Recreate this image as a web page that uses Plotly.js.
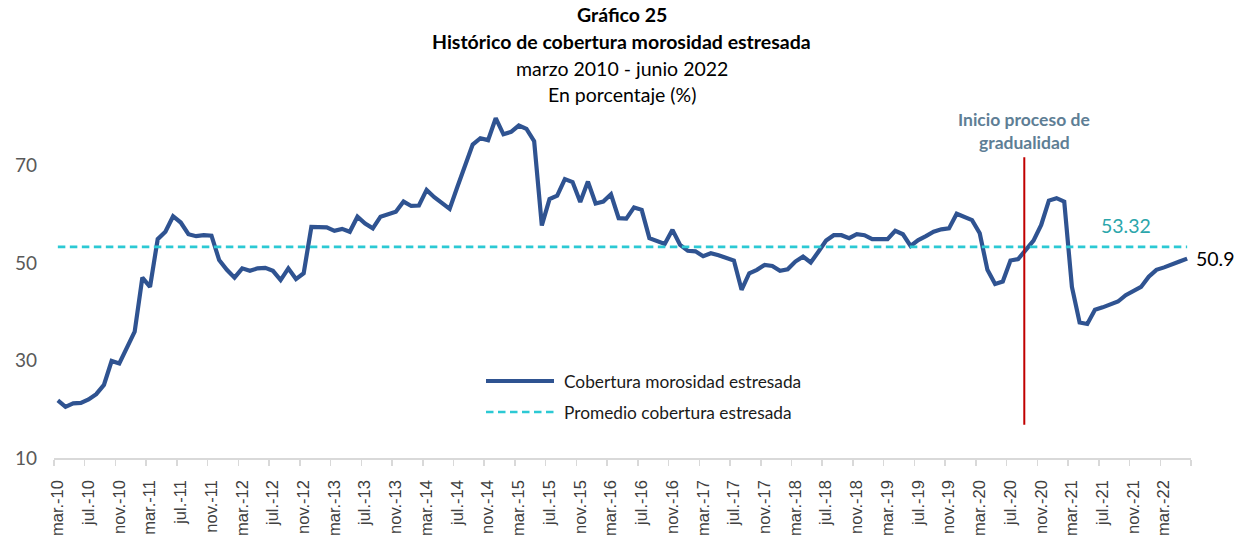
<!DOCTYPE html>
<html>
<head>
<meta charset="utf-8">
<script src="https://cdn.plot.ly/plotly-3.0.1.min.js"></script>
<style>html,body{margin:0;padding:0;background:#fff;}#chart{width:1243px;height:542px;}</style>
</head>
<body>
<div id="chart"></div>
<script>
// Monthly series, mar-2010 .. jun-2022 (148 months)
const coberturaValues = [
  21.8, 20.5, 21.2, 21.3, 22.0, 23.1, 25.0, 29.9, 29.4, 32.5, 35.9, 47.0,
  45.1, 54.9, 56.4, 59.6, 58.3, 55.9, 55.5, 55.7, 55.6, 50.6, 48.6, 47.0,
  48.9, 48.4, 48.9, 49.0, 48.4, 46.5, 48.9, 46.7, 47.9, 57.4, 57.4, 57.3,
  56.6, 57.0, 56.4, 59.5, 58.1, 57.1, 59.5, 60.0, 60.5, 62.6, 61.7, 61.8,
  65.0, 63.5, 62.4, 61.1, 65.6, 70.0, 74.3, 75.6, 75.2, 79.7, 76.4, 76.9,
  78.2, 77.5, 75.0, 57.7, 63.1, 63.8, 67.2, 66.6, 62.5, 66.7, 62.2, 62.6,
  64.1, 59.2, 59.1, 61.4, 60.9, 55.1, 54.5, 53.9, 56.8, 53.7, 52.5, 52.4,
  51.4, 52.0, 51.6, 51.0, 50.5, 44.5, 47.9, 48.6, 49.6, 49.4, 48.4, 48.7,
  50.3, 51.3, 50.1, 52.3, 54.6, 55.7, 55.7, 55.1, 55.9, 55.7, 54.9, 54.9,
  54.9, 56.6, 55.9, 53.5, 54.7, 55.5, 56.4, 56.9, 57.1, 60.1, 59.4, 58.8,
  56.1, 48.6, 45.7, 46.2, 50.5, 50.8, 52.7, 54.6, 57.8, 62.8, 63.3, 62.6,
  45.1, 37.8, 37.5, 40.4, 40.9, 41.4, 42.1, 43.4, 44.3, 45.1, 47.2, 48.6,
  49.1, 49.8, 50.3, 50.9
];
const promedio = 53.32;
const tickLabels = [
  'mar.-10','jul.-10','nov.-10','mar.-11','jul.-11','nov.-11','mar.-12','jul.-12','nov.-12',
  'mar.-13','jul.-13','nov.-13','mar.-14','jul.-14','nov.-14','mar.-15','jul.-15','nov.-15',
  'mar.-16','jul.-16','nov.-16','mar.-17','jul.-17','nov.-17','mar.-18','jul.-18','nov.-18',
  'mar.-19','jul.-19','nov.-19','mar.-20','jul.-20','nov.-20','mar.-21','jul.-21','nov.-21',
  'mar.-22'
];
const yTicks = [10, 30, 50, 70];
const eventX = 125.8;          // inicio proceso de gradualidad (between ago.-20 and sep.-20)
const lastLabel = '50.9';

const n = coberturaValues.length;
const xIdx = coberturaValues.map((_, i) => i);
const tickVals = tickLabels.map((_, k) => k * 4);
const boundaryVals = [];
for (let b = -0.5; b <= n - 0.5; b += 4) boundaryVals.push(b);

const L = 54, R = 1191, T = 68, B = 458;
const px = x => (x - L) / (R - L);
const py = y => (B - y) / (B - T);

const fontMain = 'Lato, "Open Sans", sans-serif';

const traces = [
  {
    x: xIdx, y: coberturaValues, type: 'scatter', mode: 'lines',
    name: 'Cobertura morosidad estresada', showlegend: false,
    line: {color: '#2F5391', width: 4.2, shape: 'linear'},
    hoverinfo: 'x+y'
  },
  {
    x: [0, n - 1], y: [promedio, promedio], type: 'scatter', mode: 'lines',
    name: 'Promedio cobertura estresada', showlegend: false,
    line: {color: '#2CC9D4', width: 2.8, dash: '7.5px,4.5px'}
  }
];

const titleLines = [
  {text: '<b>Gráfico 25</b>', y: 14},
  {text: '<b>Histórico de cobertura morosidad estresada</b>', y: 41},
  {text: 'marzo 2010 - junio 2022', y: 68},
  {text: 'En porcentaje (%)', y: 94}
];

const annotations = titleLines.map(t => ({
  xref: 'paper', yref: 'paper', x: px(621.5), y: py(t.y),
  xanchor: 'center', yanchor: 'middle', showarrow: false,
  text: t.text, font: {family: fontMain, size: 19.5, color: '#000'}
}));

annotations.push(
  {xref: 'x', yref: 'paper', x: eventX, y: py(119), xanchor: 'center', yanchor: 'middle',
   showarrow: false, text: '<b>Inicio proceso de</b>', font: {family: fontMain, size: 17.5, color: '#5E7E95'}},
  {xref: 'x', yref: 'paper', x: eventX, y: py(142), xanchor: 'center', yanchor: 'middle',
   showarrow: false, text: '<b>gradualidad</b>', font: {family: fontMain, size: 17.5, color: '#5E7E95'}},
  {xref: 'x', yref: 'y', x: 139, y: promedio, yshift: 21, xanchor: 'center', yanchor: 'middle',
   showarrow: false, text: promedio.toFixed(2), font: {family: fontMain, size: 19.5, color: '#2BA6AB'}},
  {xref: 'x', yref: 'y', x: n - 1, y: coberturaValues[n - 1], xshift: 7, xanchor: 'left', yanchor: 'middle',
   showarrow: false, text: lastLabel, font: {family: fontMain, size: 19.5, color: '#000'}},
  {xref: 'paper', yref: 'paper', x: px(562), y: py(381), xanchor: 'left', yanchor: 'middle',
   showarrow: false, text: 'Cobertura morosidad estresada', font: {family: fontMain, size: 17.3, color: '#1a1a1a'}},
  {xref: 'paper', yref: 'paper', x: px(562), y: py(412), xanchor: 'left', yanchor: 'middle',
   showarrow: false, text: 'Promedio cobertura estresada', font: {family: fontMain, size: 17.3, color: '#1a1a1a'}}
);

const shapes = [
  {type: 'line', xref: 'x', yref: 'y', x0: eventX, x1: eventX, y0: 16.8, y1: 71.7,
   line: {color: '#C00000', width: 2}},
  {type: 'line', xref: 'paper', yref: 'paper', x0: px(486), x1: px(554), y0: py(381), y1: py(381),
   line: {color: '#2F5391', width: 4.2}},
  {type: 'line', xref: 'paper', yref: 'paper', x0: px(486), x1: px(554), y0: py(412), y1: py(412),
   line: {color: '#2CC9D4', width: 2.4, dash: '7.5px,4.5px'}}
];

const layout = {
  width: 1243, height: 542,
  margin: {l: L, r: 1243 - R, t: T, b: 542 - B, pad: 0},
  paper_bgcolor: '#fff', plot_bgcolor: '#fff',
  showlegend: false,
  xaxis: {
    type: 'linear', range: [-0.5, n - 0.5], fixedrange: true,
    tickmode: 'array', tickvals: tickVals, ticktext: tickLabels,
    tickangle: -90, ticks: '', showgrid: false, zeroline: false,
    showline: true, linecolor: '#D9D9D9', linewidth: 1.5,
    ticklabelstandoff: 14,
    tickfont: {family: '"Liberation Sans", Arial, sans-serif', size: 16.5, color: '#404040'},
    minor: {tickmode: 'array', tickvals: boundaryVals, ticks: 'outside', ticklen: 6,
            tickcolor: '#D9D9D9', tickwidth: 1.5, showgrid: false}
  },
  yaxis: {
    range: [10, 90], fixedrange: true,
    tickmode: 'array', tickvals: yTicks, ticktext: yTicks.map(String),
    ticks: '', showgrid: false, zeroline: false, showline: false,
    ticklabelstandoff: 16,
    tickfont: {family: fontMain, size: 19, color: '#595959'}
  },
  annotations: annotations,
  shapes: shapes
};

Plotly.newPlot('chart', traces, layout, {displayModeBar: false, staticPlot: true});
</script>
</body>
</html>
